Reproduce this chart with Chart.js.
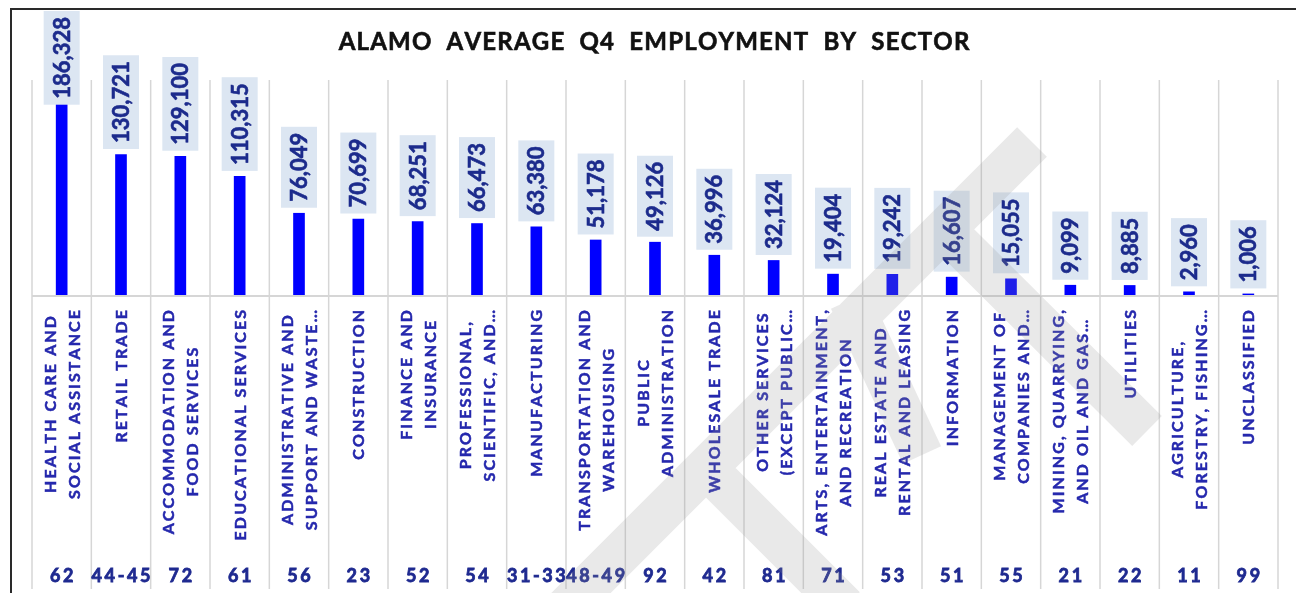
<!DOCTYPE html>
<html>
<head>
<meta charset="utf-8">
<script src="https://cdn.jsdelivr.net/npm/chart.js@4/dist/chart.umd.min.js"></script>
<style>
html, body { margin: 0; padding: 0; background: #fff; }
#chart { display: block; }
</style>
</head>
<body>
<canvas id="chart" width="1296" height="593"></canvas>
<script>
const chartTitle = "ALAMO  AVERAGE  Q4  EMPLOYMENT  BY  SECTOR";
const sectors = [
    ["HEALTH CARE AND", "SOCIAL ASSISTANCE"],
    ["RETAIL TRADE"],
    ["ACCOMMODATION AND", "FOOD SERVICES"],
    ["EDUCATIONAL SERVICES"],
    ["ADMINISTRATIVE AND", "SUPPORT AND WASTE\u2026"],
    ["CONSTRUCTION"],
    ["FINANCE AND", "INSURANCE"],
    ["PROFESSIONAL,", "SCIENTIFIC, AND\u2026"],
    ["MANUFACTURING"],
    ["TRANSPORTATION AND", "WAREHOUSING"],
    ["PUBLIC", "ADMINISTRATION"],
    ["WHOLESALE TRADE"],
    ["OTHER SERVICES", "(EXCEPT PUBLIC\u2026"],
    ["ARTS, ENTERTAINMENT,", "AND RECREATION"],
    ["REAL ESTATE AND", "RENTAL AND LEASING"],
    ["INFORMATION"],
    ["MANAGEMENT OF", "COMPANIES AND\u2026"],
    ["MINING, QUARRYING,", "AND OIL AND GAS\u2026"],
    ["UTILITIES"],
    ["AGRICULTURE,", "FORESTRY, FISHING\u2026"],
    ["UNCLASSIFIED"]
];
const naicsCodes = ["62", "44-45", "72", "61", "56", "23", "52", "54", "31-33", "48-49", "92",
    "42", "81", "71", "53", "51", "55", "21", "22", "11", "99"];
const employment = [186328, 130721, 129100, 110315, 76049, 70699, 68251, 66473, 63380, 51178, 49126,
    36996, 32124, 19404, 19242, 16607, 15055, 9099, 8885, 2960, 1006];

// draw text with letter spacing (also inside a rotated context), with an optional thin outline to thicken it
function spacedText(ctx, text, x, y, spacing, align, heavy) {
    const widths = [...text].map(c => ctx.measureText(c).width);
    const total = widths.reduce((a, b) => a + b, 0) + spacing * (widths.length - 1);
    let start = x;
    if (align === "center") start = x - total / 2;
    if (align === "right") start = x - total;
    ctx.textAlign = "left";
    [...text].forEach((c, i) => {
        ctx.fillText(c, start, y);
        if (heavy) ctx.strokeText(c, start, y);
        start += widths[i] + spacing;
    });
    return total;
}
function spacedWidth(ctx, text, spacing) {
    return [...text].reduce((a, c) => a + ctx.measureText(c).width, 0) + spacing * (text.length - 1);
}

const gridPlugin = {
    id: "grid",
    beforeDatasetsDraw(chart) {
        const ctx = chart.ctx;
        const xs = chart.scales.x;
        const area = chart.chartArea;
        const step = xs.getPixelForValue(1) - xs.getPixelForValue(0);
        ctx.save();
        ctx.strokeStyle = "#d6d6d6";
        ctx.lineWidth = 1.5;
        for (let i = 0; i <= sectors.length; i++) {
            const x = xs.getPixelForValue(i) - step / 2;
            ctx.beginPath();
            ctx.moveTo(x, area.top);
            ctx.lineTo(x, 589);
            ctx.stroke();
        }
        ctx.lineWidth = 2;
        ctx.beginPath();
        ctx.moveTo(area.left, area.bottom + 1);
        ctx.lineTo(area.right, area.bottom + 1);
        ctx.stroke();
        ctx.restore();
    }
};

const labelPlugin = {
    id: "labels",
    afterDatasetsDraw(chart) {
        const ctx = chart.ctx;
        const area = chart.chartArea;
        const xs = chart.scales.x;
        const meta = chart.getDatasetMeta(0);
        ctx.save();

        // value labels in light boxes, rotated
        ctx.font = "bold 22px Lato";
        ctx.textBaseline = "middle";
        ctx.lineWidth = 0.6;
        meta.data.forEach((bar, i) => {
            const txt = employment[i].toLocaleString("en-US");
            const len = ctx.measureText(txt).width;
            const boxH = len + 12, boxW = 36;
            let bottom = bar.y - 5.5;
            let top = bottom - boxH;
            if (top < 11) { top = 11; bottom = top + boxH; }
            ctx.fillStyle = "#dce6f2";
            ctx.fillRect(bar.x - boxW / 2, top, boxW, boxH);
            ctx.save();
            ctx.translate(bar.x + 1, (top + bottom) / 2);
            ctx.rotate(-Math.PI / 2);
            ctx.fillStyle = "#1c2b8c";
            ctx.strokeStyle = "#1c2b8c";
            ctx.textAlign = "center";
            ctx.fillText(txt, 0, 0);
            ctx.strokeText(txt, 0, 0);
            ctx.restore();
        });

        // category labels, rotated, lines centred on each other
        ctx.font = "bold 16px Lato";
        ctx.fillStyle = "#2528ad";
        ctx.strokeStyle = "#2528ad";
        ctx.lineWidth = 0.5;
        const catSpacing = 2.1;
        sectors.forEach((lines, i) => {
            const cx = xs.getPixelForValue(i);
            const maxLen = Math.max(...lines.map(l => spacedWidth(ctx, l, catSpacing)));
            const midY = area.bottom + 15 + maxLen / 2;
            lines.forEach((line, k) => {
                const lx = cx + (k - (lines.length - 1) / 2) * 24 + 1;
                ctx.save();
                ctx.translate(lx, midY);
                ctx.rotate(-Math.PI / 2);
                spacedText(ctx, line, 0, 0, catSpacing, "center", true);
                ctx.restore();
            });
        });

        // NAICS codes along the bottom
        ctx.font = "bold 18px Lato";
        ctx.fillStyle = "#1f2a90";
        ctx.strokeStyle = "#1f2a90";
        ctx.lineWidth = 0.8;
        naicsCodes.forEach((code, i) => {
            spacedText(ctx, code, xs.getPixelForValue(i), 576, 2.6, "center", true);
        });

        // title
        ctx.font = "bold 24px Lato";
        ctx.fillStyle = "#111";
        ctx.strokeStyle = "#111";
        ctx.lineWidth = 0.6;
        spacedText(ctx, chartTitle, (area.left + area.right) / 2 - 1, 42, 1.2, "center", true);

        // outer frame
        ctx.strokeStyle = "#2a2a2a";
        ctx.lineWidth = 2;
        ctx.strokeRect(11, 9, 1400, 700);
        ctx.restore();
    },
    afterDraw(chart) {
        // faint grey watermark drawn over the chart
        const ctx = chart.ctx;
        ctx.save();
        ctx.strokeStyle = "rgba(150,150,150,0.21)";
        ctx.lineCap = "butt";
        ctx.lineJoin = "miter";
        ctx.lineWidth = 42;
        ctx.beginPath();
        ctx.moveTo(1032, 142); ctx.lineTo(542, 632);
        ctx.moveTo(930, 215); ctx.lineTo(1147, 431);
        ctx.moveTo(850, 300); ctx.lineTo(922, 455);
        ctx.moveTo(700, 462); ctx.lineTo(845, 607);
        ctx.stroke();
        ctx.restore();
    }
};

new Chart(document.getElementById("chart"), {
    type: "bar",
    data: {
        labels: naicsCodes,
        datasets: [{
            data: employment,
            backgroundColor: "#0000ff",
            barThickness: 11
        }]
    },
    options: {
        responsive: false,
        animation: false,
        devicePixelRatio: 1,
        layout: { padding: { left: 32, right: 18, top: 80, bottom: 298 } },
        scales: {
            x: { display: false },
            y: { display: false, min: 0, max: 200000 }
        },
        plugins: {
            legend: { display: false },
            tooltip: { enabled: false }
        }
    },
    plugins: [gridPlugin, labelPlugin]
});
</script>
</body>
</html>
